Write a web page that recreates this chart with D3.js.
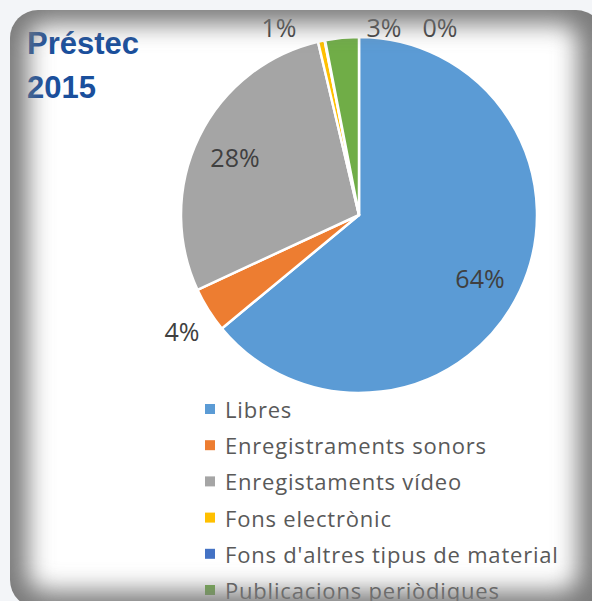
<!DOCTYPE html>
<html lang="ca">
<head>
  <meta charset="UTF-8">
  <title>Préstec 2015</title>
  <script src="https://d3js.org/d3.v7.min.js"></script>
  <style>
    body { margin: 0; background: #f3f5f8; }
    svg { display: block; }
    .label { font-family: "Open Sans", sans-serif; font-size: 25px; fill: #404040; }
    .legend text { font-family: "Open Sans", sans-serif; font-size: 22px; letter-spacing: 0.8px; fill: #595959; }
    .title { font-family: "Liberation Sans", Arial, sans-serif; font-weight: bold; font-size: 31px; fill: #1a4f9c; }
  </style>
</head>
<body>
<svg width="592" height="601"></svg>
<script>
const categories = ["Libres", "Enregistraments sonors", "Enregistaments vídeo",
  "Fons electrònic", "Fons d'altres tipus de material", "Publicacions periòdiques"];
const shares = [64.0, 4.1, 28.2, 0.6, 0.05, 3.05];
const colors = ["#5b9bd5", "#ed7d31", "#a5a5a5", "#ffc000", "#4472c4", "#70ad47"];
// label positions (Excel placed them by hand)
const labelPos = [[480, 281], [182, 334], [235, 160], [279, 30], [440, 30], [384, 30]];

const width = 592, height = 601;
const cx = 359, cy = 215, r = 178;

const svg = d3.select("svg");
const defs = svg.append("defs");

// frame shape
const frame = { x: 10, y: 10, w: 594, h: 598, rx: 28 };
defs.append("clipPath").attr("id", "frameClip")
  .append("rect")
  .attr("x", frame.x).attr("y", frame.y)
  .attr("width", frame.w).attr("height", frame.h)
  .attr("rx", frame.rx);

const blur = defs.append("filter").attr("id", "blur")
  .attr("x", "-20%").attr("y", "-20%").attr("width", "140%").attr("height", "140%");
blur.append("feGaussianBlur").attr("stdDeviation", 12);

svg.append("rect")
  .attr("x", frame.x).attr("y", frame.y)
  .attr("width", frame.w).attr("height", frame.h)
  .attr("rx", frame.rx)
  .attr("fill", "#fff");

const g = svg.append("g");

// pie
const pie = d3.pie().sort(null).value(d => d)
  .startAngle(0).endAngle(2 * Math.PI);
const arc = d3.arc().innerRadius(0).outerRadius(r);
const arcs = pie(shares);

g.append("g")
  .attr("transform", `translate(${cx},${cy})`)
  .selectAll("path")
  .data(arcs)
  .join("path")
  .attr("d", arc)
  .attr("fill", (d, i) => colors[i])
  .attr("stroke", "#fff")
  .attr("stroke-width", 2.5)
  .attr("stroke-linejoin", "round");

// data labels
g.selectAll("text.label")
  .data(arcs)
  .join("text")
  .attr("class", "label")
  .attr("x", (d, i) => labelPos[i][0])
  .attr("y", (d, i) => labelPos[i][1])
  .attr("text-anchor", "middle")
  .attr("dominant-baseline", "middle")
  .text(d => Math.round(d.data) + "%");

// legend
const legendY = d3.scalePoint().domain(categories).range([409, 590]);
const legend = g.append("g").attr("class", "legend")
  .selectAll("g")
  .data(categories)
  .join("g")
  .attr("transform", d => `translate(205,${legendY(d)})`);
legend.append("rect")
  .attr("x", 0).attr("y", -5)
  .attr("width", 10).attr("height", 10)
  .attr("fill", (d, i) => colors[i]);
legend.append("text")
  .attr("x", 20).attr("y", 0)
  .attr("dominant-baseline", "central")
  .text(d => d);

// title
g.append("text").attr("class", "title").attr("x", 27).attr("y", 54).text("Préstec");
g.append("text").attr("class", "title").attr("x", 27).attr("y", 98).text("2015");

// inset shadow of the frame
svg.append("g")
  .attr("clip-path", "url(#frameClip)")
  .append("path")
  .attr("fill-rule", "evenodd")
  .attr("fill", "#7c7c7c")
  .attr("filter", "url(#blur)")
  .attr("d", () => {
    const p = d3.path();
    p.rect(-60, -60, width + 140, height + 140);
    const x0 = 28, y0 = 24, x1 = 578, y1 = 591, rr = 18;
    p.moveTo(x0 + rr, y0);
    p.lineTo(x1 - rr, y0);
    p.arcTo(x1, y0, x1, y0 + rr, rr);
    p.lineTo(x1, y1 - rr);
    p.arcTo(x1, y1, x1 - rr, y1, rr);
    p.lineTo(x0 + rr, y1);
    p.arcTo(x0, y1, x0, y1 - rr, rr);
    p.lineTo(x0, y0 + rr);
    p.arcTo(x0, y0, x0 + rr, y0, rr);
    p.closePath();
    return p.toString();
  });
</script>
</body>
</html>
